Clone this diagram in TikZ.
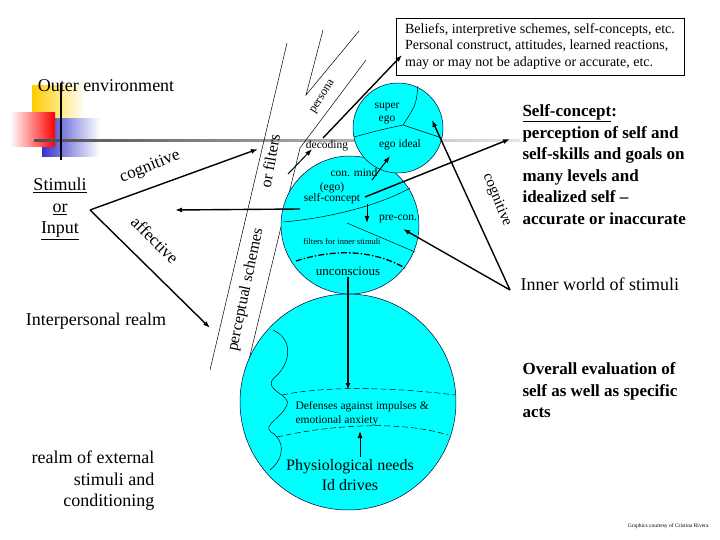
\documentclass[tikz,border=0pt]{standalone}
\usepackage{fontspec}
\setmainfont{Liberation Serif}
\usetikzlibrary{arrows.meta}
\definecolor{cy}{RGB}{0,255,255}
\definecolor{yel}{RGB}{255,204,0}
\definecolor{blu}{RGB}{51,51,204}
\begin{document}
\begin{tikzpicture}[x=1pt,y=-1pt,
  circ/.style={draw=black!80!blue,fill=cy,line width=0.5pt},
  arr/.style={-{Latex[length=7pt,width=5pt]},line width=1.4pt},
  thin/.style={line width=0.5pt},
  big/.style={font=\fontsize{18}{21.5}\selectfont},
  bigb/.style={font=\fontsize{17}{21.5}\selectfont\bfseries,align=left,anchor=north west},
  small/.style={font=\fontsize{11.5}{13}\selectfont}]
\useasboundingbox (0,0) rectangle (720,540);
% decoration
\shade[left color=yel,right color=white] (32,86) rectangle (85,118);
\shade[left color=blu,right color=white] (42,119) rectangle (100,157);
\shade[left color=white,right color=red] (10,113) rectangle (55,147);
\shade[left color=black!70,right color=black!10] (34,140) rectangle (520,142);
\draw[line width=1.3pt] (61,83) -- (61,160);
% band lines
\draw[thin] (287,43) -- (210,370);
\draw[thin] (366,60) -- (300,148) -- (247,368);
\draw[thin] (323,30) -- (306,95) -- (359,31);
% circles
\node[circ,circle,minimum size=216pt,inner sep=0] (bc) at (348,402) {};
\node[circ,circle,minimum size=138pt,inner sep=0] (mc) at (350,225) {};
\node[circ,circle,minimum size=90pt,inner sep=0] (tc) at (398,128) {};
% top circle divisions
\coordinate (tcm) at (403,125);
\draw[thin] (418,86) .. controls (416,105) .. (tcm) .. controls (380,130) .. (354,137);
\draw[thin] (tcm) -- (442,138);
\node[small,align=center] (sup) at (387,114) {super\\ego};
\node[small] (ideal) at (400,145) {ego ideal};
% middle circle divisions
\draw[thin] (283,222) .. controls (330,218) and (380,205) .. (410,188);
\draw[thin] (347,223) -- (415,252);
\draw[line width=1.3pt,dash pattern=on 6pt off 2pt on 1.5pt off 2pt] (296,261) .. controls (330,250) and (370,248) .. (405,268);
\node[small] (con) at (354,173) {con. mind};
\node[small,align=center] (ego) at (332,193) {(ego)\\[-2pt]self-concept};
\node[small] (pre) at (398,219) {pre-con.};
\node[font=\fontsize{8.5}{10}\selectfont] (filt) at (342,242) {filters for inner stimuli};
\node[font=\fontsize{13}{14}\selectfont] (unc) at (348,271) {unconscious};
\node[small] (dec) at (327,146) {decoding};
% bottom circle divisions
\draw[thin,dash pattern=on 6pt off 3pt] (282,395) .. controls (330,385) and (400,388) .. (455,395);
\draw[thin,dash pattern=on 6pt off 3pt] (277,437) .. controls (330,425) and (400,420) .. (448,435);
\draw[thin] (273,330) .. controls (295,340) and (290,365) .. (274,378) .. controls (262,390) and (292,395) .. (287,405) .. controls (282,418) and (262,425) .. (271,432) .. controls (285,440) and (285,458) .. (270,470);
\node[font=\fontsize{11.5}{14}\selectfont,align=left,anchor=west] (def) at (292,414) {Defenses against impulses \&\\emotional anxiety};
\node[font=\fontsize{16}{20}\selectfont,align=center] (phys) at (350,475) {Physiological needs\\Id drives};
% internal arrows
\draw[arr] (348,277) -- (348,390);
\draw[arr,line width=1pt] (360,457) -- (360,431);
\draw[arr,line width=1pt] (367,204) -- (367,223);
\draw[arr,line width=1pt] (372,180) -- (390,156);
\draw[arr,line width=1pt] (288,174) -- (312,149);
\draw[arr] (323,138) -- (402,55);
% box
\node[draw,thin,font=\fontsize{14}{16.5}\selectfont,align=left,minimum width=288pt,minimum height=57pt,inner sep=4pt] (box) at (540,46.5) {Beliefs, interpretive schemes, self-concepts, etc.\\Personal construct, attitudes, learned reactions,\\may or may not be adaptive or accurate, etc.};
% left side texts
\node[big] (outer) at (106,86) {Outer environment};
\node[big,align=center] (stim) at (60,209) {\underline{Stimuli}\\\underline{or}\\\underline{Input}};
\node[big] (inter) at (96,321) {Interpersonal realm};
\node[big,align=right] (ext) at (93,481) {realm of external\\stimuli and\\conditioning};
\coordinate (v) at (90,210);
\draw[arr] (v) -- (258,149);
\draw[arr] (v) -- (210,328);
\draw[arr] (300,209) -- (175,210);
\node[font=\fontsize{17}{20}\selectfont,rotate=22] (cog1) at (150,167) {cognitive};
\node[font=\fontsize{17}{20}\selectfont,rotate=-45] (aff) at (155,240) {affective};
\node[font=\fontsize{16}{20}\selectfont,rotate=78] (ps) at (246,290) {perceptual schemes};
\node[font=\fontsize{16}{20}\selectfont,rotate=80] (of) at (270,161) {or filters};
\node[font=\fontsize{12}{14}\selectfont,rotate=58] (pers) at (323,97) {persona};
% right side
\node[bigb] (sc) at (519,101) {\underline{Self-concept}:\\perception of self and\\self-skills and goals on\\many levels and\\idealized self --\\accurate or inaccurate};
\node[big,anchor=west] (inner) at (517,284) {Inner world of stimuli};
\node[bigb] (ov) at (519,359) {Overall evaluation of\\self as well as specific\\acts};
\coordinate (w) at (510,290);
\draw[arr] (365,197) -- (510,139);
\draw[arr] (w) -- (432,120);
\draw[arr] (w) -- (403,229);
\node[font=\fontsize{15}{18}\selectfont,rotate=-68] (cog2) at (497,200) {cognitive};
\node[font=\fontsize{5.5}{6}\selectfont,anchor=east] (cr) at (712,526) {Graphics courtesy of Cristina Rivera};
\end{tikzpicture}
\end{document}
